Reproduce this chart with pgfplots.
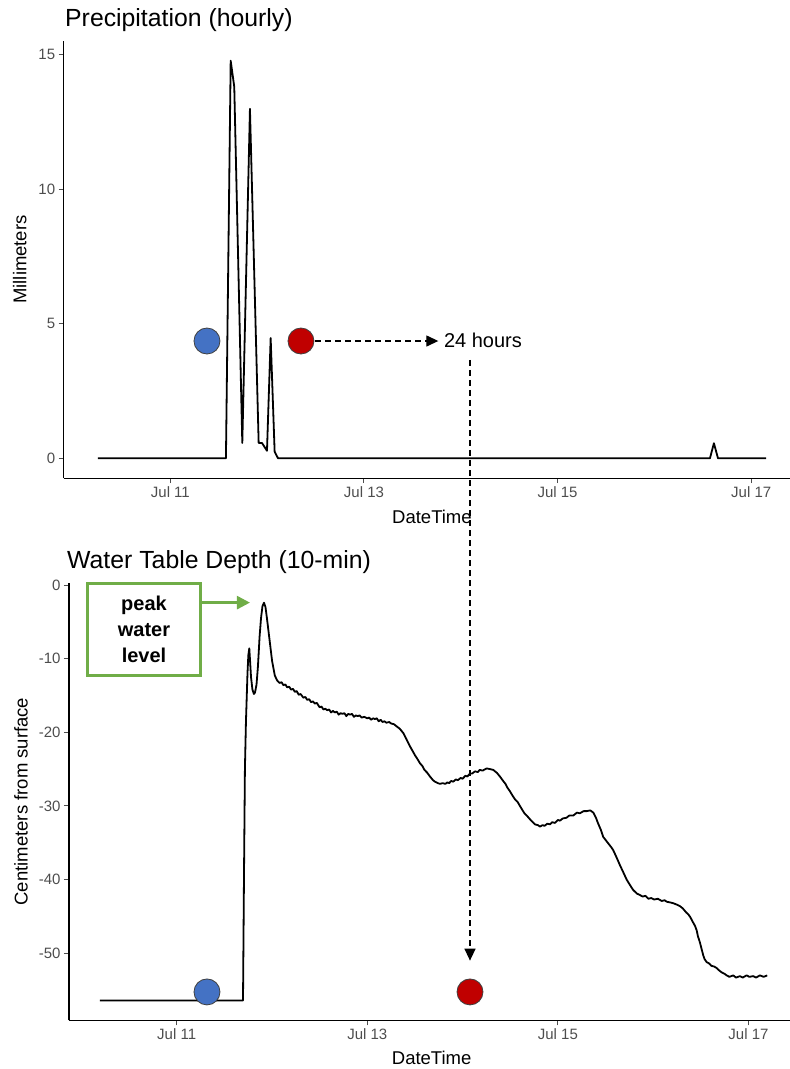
\documentclass[border=0pt]{standalone}
\usepackage{pgfplots}
\pgfplotsset{compat=1.18}
\usepackage{fontspec}
\setmainfont{Liberation Sans}
\usetikzlibrary{arrows.meta}

\definecolor{ptblue}{HTML}{4472C4}
\definecolor{ptred}{HTML}{C00000}
\definecolor{ptgreen}{HTML}{70AD47}
\definecolor{tickgray}{HTML}{4D4D4D}

\pgfplotsset{
    panel/.style={
        scale only axis,
        anchor=south west,
        axis lines=left,
        axis line style={-, black, line width=1.2pt},
        tick align=outside,
        tick pos=left,
        major tick length=5pt,
        tick style={tickgray, line width=1pt},
        ticklabel style={font=\fontsize{15}{18}\selectfont, text=tickgray},
        /pgf/number format/assume math mode=true,
        label style={font=\fontsize{18.5}{22}\selectfont},
        xtick={11,13,15,17},
        xticklabels={Jul 11, Jul 13, Jul 15, Jul 17},
        xlabel={DateTime},
        clip=false,
    },
    dashedarrow/.style={black, line width=1.3pt, dash pattern=on 6pt off 4pt,
        -{Triangle[length=12pt,width=11pt]}},
}

\begin{document}
\begin{tikzpicture}
\useasboundingbox (0,0) rectangle (790pt,1069pt);

% precipitation panel
\begin{axis}[panel,
    at={(63.7pt,590.8pt)}, width=726.3pt, height=437.4pt,
    xmin=9.898, xmax=17.401, ymin=-0.74, ymax=15.52,
    ytick={0,5,10,15},
    ylabel={Millimeters},
    ylabel style={at={(axis description cs:-0.0606,0.5)}, anchor=center},
    xlabel style={at={(axis description cs:0.507,-0.088)}, anchor=center},
]
\addplot[black, line width=1.8pt, line join=round] coordinates {
    (10.252,0) (11.574,0) (11.623,14.78) (11.660,13.81) (11.743,0.57)
    (11.822,12.99) (11.912,0.57) (11.946,0.57) (11.998,0.28) (12.036,4.47)
    (12.077,0.25) (12.112,0) (16.574,0) (16.615,0.56) (16.657,0) (17.153,0)
};
\addplot[dashedarrow] coordinates {(12.494,4.36) (13.768,4.36)};
\addplot[only marks, mark=*, mark size=13pt,
    mark options={fill=ptblue, draw=black!75, line width=0.8pt}] coordinates {(11.378,4.36)};
\addplot[only marks, mark=*, mark size=13pt,
    mark options={fill=ptred, draw=black!75, line width=0.8pt}] coordinates {(12.349,4.36)};
\node[anchor=west, inner sep=0pt, font=\fontsize{20}{24}\selectfont] at (axis cs:13.825,4.37) {24 hours};
\end{axis}

% water table panel
\begin{axis}[panel,
    at={(69pt,48.7pt)}, width=721pt, height=437.5pt,
    xmin=9.870, xmax=17.436, ymin=-59.1, ymax=0.3,
    ytick={0,-10,-20,-30,-40,-50},
    ylabel={Centimeters from surface},
    ylabel style={at={(axis description cs:-0.0666,0.5)}, anchor=center},
    xlabel style={at={(axis description cs:0.503,-0.086)}, anchor=center},
]
\addplot[black, line width=1.8pt, line join=round] coordinates {
    (10.195,-56.4) (11.696,-56.4) (11.706,-40) (11.716,-25) (11.727,-18.5)
    (11.743,-12) (11.752,-9.5) (11.762,-8.6) (11.771,-10.5) (11.780,-12.5)
    (11.795,-14.2) (11.810,-14.8) (11.822,-14.6) (11.838,-13.5) (11.853,-11.0)
    (11.870,-7.0) (11.885,-4.5) (11.900,-2.9) (11.916,-2.4) (11.932,-3.0)
    (11.948,-4.6) (11.975,-7.5) (12.001,-10.3) (12.030,-12.3) (12.056,-13.0)
    (12.08,-13.3) (12.10,-13.2) (12.12,-13.6) (12.14,-13.5) (12.16,-13.9)
    (12.18,-13.8) (12.20,-14.2) (12.22,-14.1) (12.24,-14.5) (12.26,-14.4)
    (12.28,-14.9) (12.30,-14.8) (12.33,-15.3) (12.35,-15.2) (12.37,-15.6)
    (12.39,-15.5) (12.41,-15.9) (12.43,-15.8) (12.45,-16.1) (12.47,-16.0)
    (12.50,-16.6) (12.52,-16.5) (12.54,-16.9) (12.56,-16.8) (12.58,-17.0)
    (12.60,-16.9) (12.62,-17.3) (12.64,-17.1) (12.66,-17.3) (12.68,-17.2)
    (12.70,-17.6) (12.72,-17.4) (12.74,-17.5) (12.76,-17.4) (12.78,-17.8)
    (12.80,-17.5) (12.82,-17.6) (12.84,-17.5) (12.86,-17.9) (12.88,-17.7)
    (12.90,-17.8) (12.92,-17.7) (12.94,-18.0) (12.97,-17.9) (13.00,-18.1)
    (13.02,-18.0) (13.04,-18.3) (13.06,-18.1) (13.08,-18.2) (13.10,-18.1)
    (13.12,-18.5) (13.14,-18.3) (13.16,-18.6) (13.18,-18.5) (13.20,-18.7)
    (13.23,-18.6) (13.25,-18.8) (13.28,-18.9) (13.309,-19.2) (13.34,-19.5)
    (13.378,-20.1) (13.41,-20.9) (13.448,-21.9) (13.47,-22.4) (13.50,-23.1)
    (13.53,-23.7) (13.553,-24.2) (13.58,-24.6) (13.60,-25.1) (13.63,-25.5)
    (13.658,-26.0) (13.69,-26.5) (13.71,-26.7) (13.74,-26.9) (13.763,-27.0)
    (13.79,-26.9) (13.82,-27.0) (13.84,-26.8) (13.86,-26.9) (13.88,-26.6)
    (13.902,-26.7) (13.93,-26.4) (13.95,-26.5) (13.98,-26.2) (14.00,-26.3)
    (14.03,-25.9) (14.05,-26.0) (14.077,-25.6) (14.10,-25.6) (14.13,-25.3)
    (14.16,-25.4) (14.18,-25.1) (14.21,-25.2) (14.253,-24.9) (14.29,-25.0)
    (14.322,-25.1) (14.36,-25.5) (14.392,-26.0) (14.42,-26.5) (14.45,-27.0)
    (14.47,-27.5) (14.497,-28.0) (14.52,-28.5) (14.55,-29.1) (14.58,-29.5)
    (14.602,-30.0) (14.63,-30.6) (14.65,-31.0) (14.68,-31.4) (14.707,-31.8)
    (14.73,-32.1) (14.76,-32.5) (14.79,-32.6) (14.812,-32.8) (14.84,-32.6)
    (14.86,-32.7) (14.89,-32.4) (14.917,-32.5) (14.94,-32.2) (14.97,-32.3)
    (15.00,-31.9) (15.022,-32.0) (15.05,-31.7) (15.09,-31.6) (15.12,-31.3)
    (15.162,-31.3) (15.20,-30.9) (15.23,-31.0) (15.27,-30.7) (15.302,-30.7)
    (15.34,-30.6) (15.372,-30.9) (15.40,-31.6) (15.42,-32.3) (15.45,-33.2)
    (15.476,-34.2) (15.50,-34.6) (15.53,-35.1) (15.56,-35.6) (15.581,-36.0)
    (15.62,-37.1) (15.65,-38.0) (15.69,-39.1) (15.722,-40.0) (15.76,-40.8)
    (15.79,-41.4) (15.83,-41.9) (15.862,-42.1) (15.89,-42.3) (15.92,-42.2)
    (15.95,-42.6) (15.98,-42.5) (16.01,-42.7) (16.05,-42.6) (16.09,-42.9)
    (16.12,-42.8) (16.142,-43.0) (16.18,-43.1) (16.21,-43.2) (16.25,-43.4)
    (16.281,-43.6) (16.31,-43.9) (16.33,-44.2) (16.35,-44.5) (16.368,-44.7)
    (16.39,-45.1) (16.41,-45.6) (16.44,-46.3) (16.457,-46.9) (16.47,-47.7)
    (16.49,-48.5) (16.51,-49.5) (16.526,-50.3) (16.54,-50.8) (16.561,-51.2)
    (16.59,-51.4) (16.61,-51.7) (16.64,-51.8) (16.666,-52.0) (16.69,-52.3)
    (16.72,-52.6) (16.75,-52.8) (16.771,-53.0) (16.80,-53.2) (16.84,-53.0)
    (16.87,-53.3) (16.911,-53.1) (16.94,-53.3) (16.98,-53.0) (17.01,-53.2)
    (17.05,-53.1) (17.08,-53.3) (17.12,-53.0) (17.16,-53.2) (17.197,-53.0)
};
% dashed connector from the 24 hours mark down to the lower panel
\addplot[dashedarrow] coordinates {(14.078,30.55) (14.078,-51.0)};
\addplot[only marks, mark=*, mark size=13pt,
    mark options={fill=ptblue, draw=black!75, line width=0.8pt}] coordinates {(11.318,-55.25)};
\addplot[only marks, mark=*, mark size=13pt,
    mark options={fill=ptred, draw=black!75, line width=0.8pt}] coordinates {(14.078,-55.25)};
% peak water level callout
\node[draw=ptgreen, line width=2.6pt, fill=white, minimum width=113pt, minimum height=92pt,
    align=center, font=\bfseries\fontsize{20}{26}\selectfont] at (axis cs:10.657,-6.07) {peak\\water\\level};
\addplot[ptgreen, line width=2.6pt, -{Triangle[length=13pt,width=13pt]}] coordinates {(11.262,-2.39) (11.769,-2.39)};
\end{axis}

\node[anchor=base west, inner sep=0pt, font=\fontsize{24.8}{29}\selectfont] at (65pt,1042.5pt) {Precipitation (hourly)};
\node[anchor=base west, inner sep=0pt, font=\fontsize{24.8}{29}\selectfont] at (67pt,500.5pt) {Water Table Depth (10-min)};
\end{tikzpicture}
\end{document}
